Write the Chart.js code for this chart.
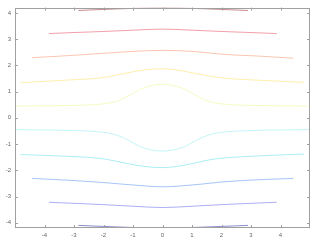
<!DOCTYPE html>
<html>
<head>
<meta charset="utf-8">
<script src="https://cdn.jsdelivr.net/npm/chart.js@4/dist/chart.umd.min.js"></script>
<style>
html,body{margin:0;padding:0;background:#fff;}
#wrap{width:320px;height:240px;position:relative;}
</style>
</head>
<body>
<div id="wrap"><canvas id="c" width="320" height="240"></canvas></div>
<script>
// Tick labels
const xTicks = [-4, -3, -2, -1, 0, 1, 2, 3, 4];
const yTicks = [-4, -3, -2, -1, 0, 1, 2, 3, 4];

// Contour levels (series names)
const levels = [-4.1, -3.2, -2.3, -1.35, -0.45, 0.45, 1.35, 2.3, 3.2, 4.1];

// Contour line coordinates
const xA = [-2.85, -2, -1, 0, 1, 2, 2.9];
const yA = [-4.10, -4.14, -4.18, -4.20, -4.18, -4.14, -4.10];

const xB = [-3.85, -3, -2, -1, 0, 1, 2, 3, 3.87];
const yB = [-3.22, -3.26, -3.31, -3.37, -3.42, -3.37, -3.31, -3.26, -3.22];

const xC = [-4.43, -3.2, -2.1, -1, 0, 1, 2.2, 3.3, 4.43];
const yC = [-2.31, -2.38, -2.46, -2.56, -2.63, -2.56, -2.43, -2.36, -2.31];

const xD = [-4.81, -3.2, -2.1, -1.2, -0.65, 0, 0.5, 1.03, 1.6, 2.2, 3.3, 4.8];
const yD = [-1.40, -1.47, -1.55, -1.74, -1.85, -1.90, -1.85, -1.74, -1.60, -1.52, -1.45, -1.38];

const xE = [-4.98, -3.2, -2.1, -1.55, -1.15, -0.75, -0.4, 0, 0.4, 0.75, 1.15, 1.55, 2.1, 3.2, 4.98];
const yE = [-0.45, -0.48, -0.54, -0.66, -0.86, -1.10, -1.22, -1.27, -1.22, -1.10, -0.86, -0.66, -0.54, -0.48, -0.45];

const xF = [-4.98, -3.2, -2.1, -1.55, -1.15, -0.75, -0.4, 0, 0.4, 0.75, 1.15, 1.55, 2.1, 3.2, 4.98];
const yF = [0.45, 0.47, 0.52, 0.63, 0.84, 1.09, 1.22, 1.28, 1.22, 1.09, 0.84, 0.63, 0.52, 0.47, 0.45];

const xG = [-4.81, -3.2, -2.1, -1.2, -0.65, 0, 0.5, 1.03, 1.6, 2.2, 3.3, 4.8];
const yG = [1.34, 1.44, 1.52, 1.71, 1.82, 1.87, 1.82, 1.71, 1.59, 1.50, 1.43, 1.35];

const xH = [-4.43, -3.2, -2.1, -1, 0, 1, 2.2, 3.3, 4.43];
const yH = [2.29, 2.37, 2.45, 2.53, 2.57, 2.53, 2.41, 2.35, 2.27];

const xI = [-3.85, -3, -2, -1, 0, 1, 2, 3, 3.87];
const yI = [3.21, 3.25, 3.29, 3.34, 3.38, 3.34, 3.29, 3.25, 3.21];

const xJ = [-2.85, -2, -1, 0, 1, 2, 2.9];
const yJ = [4.09, 4.13, 4.17, 4.19, 4.17, 4.13, 4.09];

const lineXs = [xA, xB, xC, xD, xE, xF, xG, xH, xI, xJ];
const lineYs = [yA, yB, yC, yD, yE, yF, yG, yH, yI, yJ];

const colors = [
  'rgba(0,0,143,0.45)',
  'rgba(40,40,230,0.38)',
  'rgba(0,90,235,0.35)',
  'rgba(0,200,220,0.33)',
  'rgba(60,220,230,0.3)',
  'rgba(230,240,60,0.3)',
  'rgba(245,205,0,0.32)',
  'rgba(240,90,30,0.35)',
  'rgba(220,0,30,0.38)',
  'rgba(128,0,0,0.45)'
];

const datasets = levels.map((lv, i) => ({
  label: String(lv),
  data: lineXs[i].map((x, j) => ({x: x, y: lineYs[i][j]})),
  borderColor: colors[i],
  borderWidth: 1,
  pointRadius: 0,
  showLine: true,
  fill: false,
  tension: 0.35
}));

const boxPlugin = {
  id: 'boxTicks',
  afterDraw(chart) {
    const ctx = chart.ctx;
    const a = chart.chartArea;
    const xs = chart.scales.x, ys = chart.scales.y;
    ctx.save();
    ctx.strokeStyle = '#a0a0a0';
    ctx.lineWidth = 1;
    ctx.strokeRect(Math.round(a.left) + 0.5, Math.round(a.top) + 0.5,
                   Math.round(a.right - a.left) - 1, Math.round(a.bottom - a.top) - 1);
    ctx.beginPath();
    const L = 3;
    xs.ticks.forEach(t => {
      const px = Math.round(xs.getPixelForValue(t.value)) + 0.5;
      ctx.moveTo(px, a.bottom); ctx.lineTo(px, a.bottom - L);
      ctx.moveTo(px, a.top); ctx.lineTo(px, a.top + L);
    });
    ys.ticks.forEach(t => {
      const py = Math.round(ys.getPixelForValue(t.value)) + 0.5;
      ctx.moveTo(a.left, py); ctx.lineTo(a.left + L, py);
      ctx.moveTo(a.right, py); ctx.lineTo(a.right - L, py);
    });
    ctx.stroke();
    ctx.restore();
  }
};

new Chart(document.getElementById('c'), {
  type: 'scatter',
  data: { datasets },
  options: {
    responsive: false,
    animation: false,
    devicePixelRatio: 1,
    layout: { padding: { top: 6, right: 10, left: 0, bottom: 0 } },
    plugins: { legend: { display: false }, tooltip: { enabled: false } },
    scales: {
      x: {
        type: 'linear', min: -5, max: 5,
        afterBuildTicks: s => { s.ticks = xTicks.map(v => ({value: v})); },
        afterFit: s => { s.height = 12; },
        grid: { display: false, drawTicks: false },
        border: { display: false },
        ticks: { padding: 4, font: { size: 6, family: 'Liberation Sans' }, color: '#666', maxRotation: 0, autoSkip: false }
      },
      y: {
        type: 'linear', min: -4.2, max: 4.2,
        afterBuildTicks: s => { s.ticks = yTicks.map(v => ({value: v})); },
        afterFit: s => { s.width = 15; },
        grid: { display: false, drawTicks: false },
        border: { display: false },
        ticks: { padding: 4, font: { size: 6, family: 'Liberation Sans' }, color: '#666', autoSkip: false }
      }
    }
  },
  plugins: [boxPlugin]
});
</script>
</body>
</html>
